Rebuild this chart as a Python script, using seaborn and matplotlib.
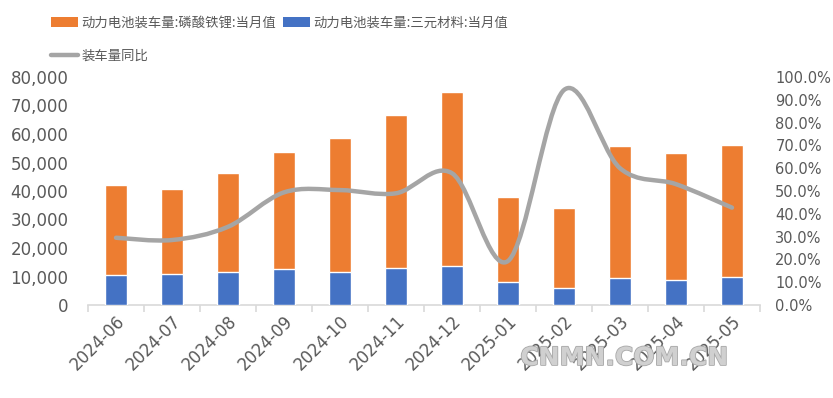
import matplotlib
matplotlib.use('Agg')
import matplotlib.pyplot as plt
import seaborn as sns
import numpy as np
import pandas as pd
from matplotlib.path import Path
from matplotlib.patches import PathPatch, Patch
from matplotlib.lines import Line2D
import matplotlib.ticker as mticker
import matplotlib.patheffects as pe

months = ['2024-06', '2024-07', '2024-08', '2024-09', '2024-10', '2024-11',
          '2024-12', '2025-01', '2025-02', '2025-03', '2025-04', '2025-05']
lfp = [31700, 30000, 34900, 41100, 47100, 53700, 61000, 30000, 28300, 46400, 44700, 46300]
ternary = [10500, 10800, 11500, 12600, 11500, 12900, 13600, 8000, 5900, 9400, 8700, 9800]
yoy_pct = [29.5, 28.5, 34.3, 49.4, 50.4, 49.0, 57.8, 19.3, 94.3, 60.0, 53.0, 42.7]

label_lfp = '动力电池装车量:磷酸铁锂:当月值'
label_ter = '动力电池装车量:三元材料:当月值'
label_yoy = '装车量同比'

ORANGE = '#ED7D31'
BLUE = '#4472C4'
GRAY = '#A5A5A5'
TXT = '#595959'

sns.set_theme(style='white')
plt.rcParams['font.family'] = ['Noto Sans CJK SC', 'DejaVu Sans']

df = pd.DataFrame({'month': months,
                   'total': np.array(lfp) + np.array(ternary),
                   'ternary': ternary})

fig = plt.figure(figsize=(8.33, 3.98), dpi=100)
ax = fig.add_axes([88/833, 1-305/398, (760-88)/833, (305-77)/398])

sns.barplot(data=df, x='month', y='total', color=ORANGE, saturation=1,
            width=0.39, ax=ax, zorder=2)
sns.barplot(data=df, x='month', y='ternary', color=BLUE, saturation=1,
            width=0.39, ax=ax, zorder=3)

ax.set_xlim(-0.5, len(months) - 0.5)
ax.set_ylim(0, 80000)
ax.set_yticks(np.arange(0, 80001, 10000))
ax.yaxis.set_major_formatter(mticker.FuncFormatter(lambda v, p: f'{int(v):,}'))
ax.set_xlabel('')
ax.set_ylabel('')
for s in ['top', 'right', 'left']:
    ax.spines[s].set_visible(False)
ax.spines['bottom'].set_color('#D9D9D9')
ax.spines['bottom'].set_linewidth(1.2)
ax.set_xticks(np.arange(-0.5, len(months), 1), minor=True)
ax.tick_params(axis='x', which='major', length=0, pad=5)
ax.tick_params(axis='x', which='minor', length=5, color='#D9D9D9', width=1.2, bottom=True)
ax.tick_params(axis='y', length=0, pad=14, labelsize=12, labelcolor=TXT)
for lab in ax.get_xticklabels():
    lab.set_rotation(45)
    lab.set_ha('right')
    lab.set_va('top')
    lab.set_rotation_mode('anchor')
    lab.set_fontsize(12)
    lab.set_color(TXT)
    lab.set_family(['DejaVu Sans'])
for lab in ax.get_yticklabels():
    lab.set_family(['DejaVu Sans'])

ax2 = ax.twinx()
ax2.set_ylim(0, 1)
ax2.set_yticks(np.arange(0, 1.0001, 0.1))
ax2.yaxis.set_major_formatter(mticker.PercentFormatter(xmax=1, decimals=1))
for s in ax2.spines.values():
    s.set_visible(False)
ax2.tick_params(axis='y', length=0, pad=11, labelsize=10.5, labelcolor=TXT)
for lab in ax2.get_yticklabels():
    lab.set_family(['DejaVu Sans'])

# smoothed line (Excel-style Catmull-Rom as cubic Bezier segments)
xs = np.arange(len(months), dtype=float)
ys = np.array(yoy_pct) / 100.0
pts = np.column_stack([xs, ys])
ext = np.vstack([pts[0], pts, pts[-1]])
verts = [tuple(pts[0])]
codes = [Path.MOVETO]
for i in range(1, len(ext) - 2):
    p0, p1, p2, p3 = ext[i-1], ext[i], ext[i+1], ext[i+2]
    c1 = p1 + (p2 - p0) / 6.0
    c2 = p2 - (p3 - p1) / 6.0
    verts += [tuple(c1), tuple(c2), tuple(p2)]
    codes += [Path.CURVE4] * 3
ax2.add_patch(PathPatch(Path(verts, codes), facecolor='none', edgecolor=GRAY,
                        lw=3.2, capstyle='round', joinstyle='round', zorder=4))

handles = [Patch(facecolor=ORANGE, edgecolor='none'),
           Line2D([0], [0], color=GRAY, lw=3.2),
           Patch(facecolor=BLUE, edgecolor='none')]
labels = [label_lfp, label_yoy, label_ter]
fig.legend(handles, labels, ncol=2, loc='upper left',
           bbox_to_anchor=(51/833, 1-16/398), frameon=False, fontsize=9.6,
           handlelength=2.0, handleheight=0.75, handletextpad=0.3,
           columnspacing=0.5, labelspacing=1.4, borderpad=0, borderaxespad=0,
           labelcolor=TXT)

fig.text(624/833, 1-358/398, 'CNMN.COM.CN', ha='center', va='center',
         fontsize=18, fontweight='bold', color='#D0D0D0', family=['DejaVu Sans'],
         path_effects=[pe.withStroke(linewidth=1.2, foreground='#A8A8A8')], zorder=10)

fig.savefig('out.png', dpi=100)
